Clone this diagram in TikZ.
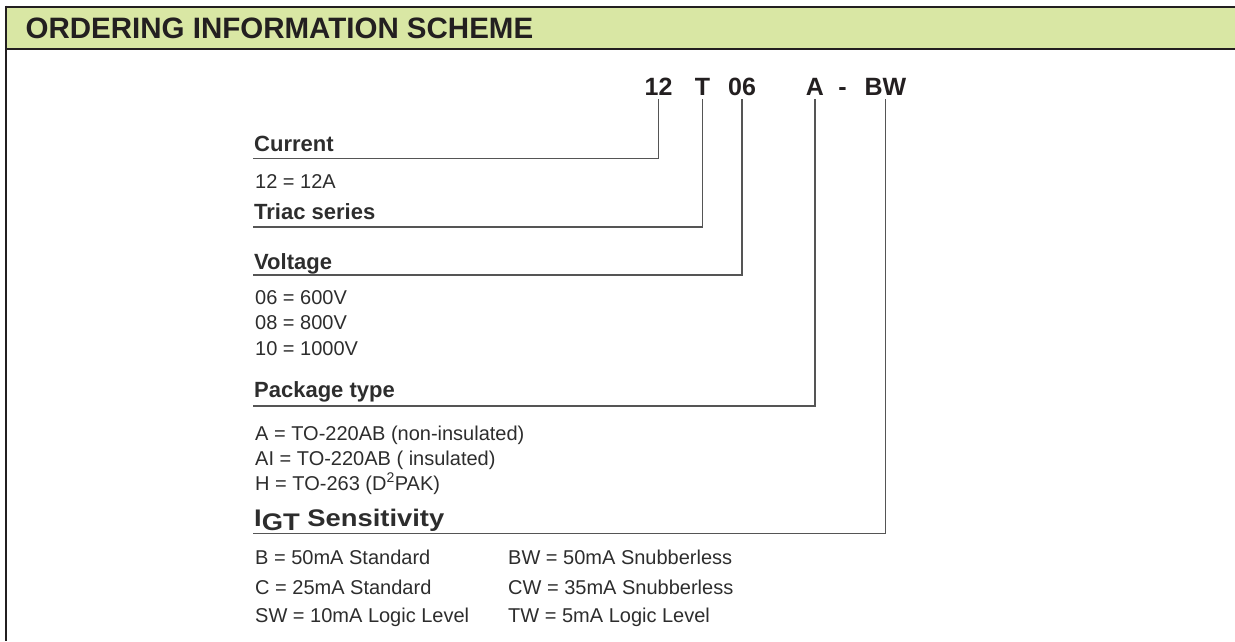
\documentclass[tikz,border=0pt]{standalone}
\usepackage{fontspec}
\setmainfont{Liberation Sans}
\definecolor{hdr}{RGB}{217,231,164}
\definecolor{ink}{RGB}{35,31,32}
\definecolor{txt}{RGB}{45,45,45}
\definecolor{ln}{RGB}{85,85,85}
\tikzset{
  hd/.style={anchor=base west, inner sep=0pt, font=\fontsize{22}{24}\selectfont\bfseries, text=txt},
  it/.style={anchor=base west, inner sep=0pt, font=\fontsize{20}{24}\selectfont, text=txt},
  code/.style={anchor=base, inner sep=0pt, font=\fontsize{25}{30}\selectfont\bfseries, text=ink},
  conn/.style={draw=ln, line width=1.3pt},
  frame/.style={draw=ink, line width=2.7pt},
}
\begin{document}
\begin{tikzpicture}[x=1pt,y=-1pt]
\useasboundingbox (0,0) rectangle (1235,641);
% header band
\fill[hdr] (6,7) rectangle (1235,49);
\draw[frame] (6,7) -- (1235,7);
\draw[frame] (6,49) -- (1235,49);
\draw[frame] (6,5.65) -- (6,641);
\node[anchor=base west, inner sep=0pt, font=\fontsize{29.5}{32}\selectfont\bfseries, text=ink] (title) at (25.5,38.5) {ORDERING INFORMATION SCHEME};
% code
\node[code] (n12) at (658.5,95) {12};
\node[code] (nT) at (702.5,95) {T};
\node[code] (n06) at (742,95) {06};
\node[code] (nA) at (815,95) {A};
\node[code] (ndash) at (842.5,95) {-};
\node[code] (nBW) at (885.5,95) {BW};
% headings and items
\node[hd] (hcur) at (254,151) {Current};
\node[it] (i12) at (255,188) {12 = 12A};
\node[hd] (htri) at (254,219) {Triac series};
\node[hd] (hvol) at (254,269) {Voltage};
\node[it] (v06) at (255,304) {06 = 600V};
\node[it] (v08) at (255,329) {08 = 800V};
\node[it] (v10) at (255,355) {10 = 1000V};
\node[hd] (hpkg) at (254,397) {Package type};
\node[it] (pA) at (255,440) {A = TO-220AB (non-insulated)};
\node[it] (pAI) at (255,465) {AI = TO-220AB ( insulated)};
\node[it] (pH) at (255,490) {H = TO-263 (D\textsuperscript{2}PAK)};
\node[hd, font=\fontsize{24}{26}\selectfont\bfseries] (higt) at (254,526.5) {\scalebox{1.14}[1]{I\raisebox{-4pt}{GT} Sensitivity}};
\node[it] (sB) at (255,564) {B = 50mA Standard};
\node[it] (sC) at (255,594) {C = 25mA Standard};
\node[it] (sSW) at (255,622) {SW = 10mA Logic Level};
\node[it] (sBW) at (508,564) {BW = 50mA Snubberless};
\node[it] (sCW) at (508,594) {CW = 35mA Snubberless};
\node[it] (sTW) at (508,622) {TW = 5mA Logic Level};
% underline ends
\coordinate (ucur) at (253,158.5);
\coordinate (utri) at (253,227);
\coordinate (uvol) at (253,275);
\coordinate (upkg) at (253,406);
\coordinate (uigt) at (253,533.5);
% connectors
\draw[conn] ([yshift=-4pt]n12.base) |- (ucur);
\draw[conn] ([yshift=-4pt]nT.base) |- (utri);
\draw[conn] ([yshift=-4pt]n06.base) |- (uvol);
\draw[conn] ([yshift=-4pt]nA.base) |- (upkg);
\draw[conn] ([yshift=-4pt]nBW.base) |- (uigt);
\end{tikzpicture}
\end{document}
